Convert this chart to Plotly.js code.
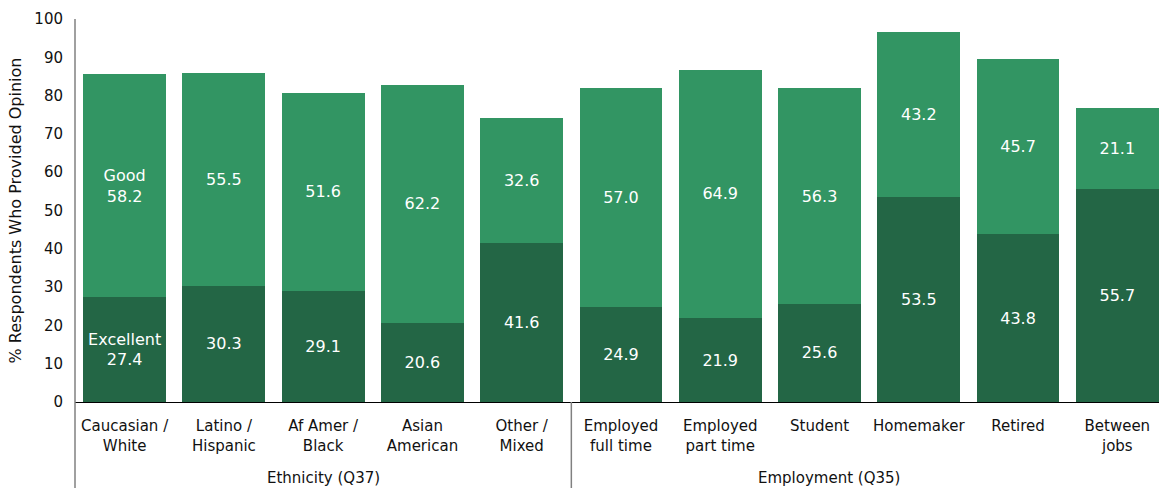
<!DOCTYPE html>
<html>
<head>
<meta charset="utf-8">
<script src="https://cdn.plot.ly/plotly-3.0.1.min.js"></script>
<style>html,body{margin:0;padding:0;background:#fff;}#chart{width:1159px;height:488px;}</style>
</head>
<body>
<div id="chart"></div>
<script>
const categories = ["Caucasian /<br>White", "Latino /<br>Hispanic", "Af Amer /<br>Black", "Asian<br>American", "Other /<br>Mixed",
  "Employed<br>full time", "Employed<br>part time", "Student", "Homemaker", "Retired", "Between<br>jobs"];
const excellent = [27.4, 30.3, 29.1, 20.6, 41.6, 24.9, 21.9, 25.6, 53.5, 43.8, 55.7];
const good = [58.2, 55.5, 51.6, 62.2, 32.6, 57.0, 64.9, 56.3, 43.2, 45.7, 21.1];
const groups = ["Ethnicity (Q37)", "Employment (Q35)"];
const groupSizes = [5, 6];

const FONT = "DejaVu Sans, Verdana, sans-serif";
const excText = excellent.map((v, i) => (i === 0 ? "Excellent<br>" : "") + v.toFixed(1));
const goodText = good.map((v, i) => (i === 0 ? "Good<br>" : "") + v.toFixed(1));

const xs = categories.map((c, i) => i);
const traces = [
  {type: "bar", name: "Excellent", x: xs, y: excellent, text: excText, textposition: "inside",
   insidetextanchor: "middle", textfont: {color: "#ffffff", size: 16, family: FONT},
   marker: {color: "#236645"}, hoverinfo: "skip"},
  {type: "bar", name: "Good", x: xs, y: good, text: goodText, textposition: "inside",
   insidetextanchor: "middle", textfont: {color: "#ffffff", size: 16, family: FONT},
   marker: {color: "#329563"}, hoverinfo: "skip"}
];

const xmin = -0.5, xmax = 10.42;
const toPaper = v => (v - xmin) / (xmax - xmin);
const dividerX = toPaper(groupSizes[0] - 0.5);

const layout = {
  width: 1159, height: 488,
  margin: {l: 75, r: 0, t: 19, b: 86},
  barmode: "stack", bargap: 0.165,
  showlegend: false,
  paper_bgcolor: "#ffffff", plot_bgcolor: "#ffffff",
  font: {family: FONT, color: "#111111", size: 15},
  xaxis: {
    type: "linear", range: [xmin, xmax], tickmode: "array", tickvals: xs, ticktext: categories,
    showline: true, linecolor: "#000000", linewidth: 1, showgrid: false, zeroline: false,
    ticks: "outside", ticklen: 10, tickcolor: "rgba(0,0,0,0)",
    tickfont: {size: 15, family: FONT, color: "#111111"}, fixedrange: true
  },
  yaxis: {
    range: [0, 100], tickmode: "array", tickvals: [0,10,20,30,40,50,60,70,80,90,100],
    showgrid: false, zeroline: false, showline: false,
    ticks: "outside", ticklen: 8, tickcolor: "rgba(0,0,0,0)",
    tickfont: {size: 15, family: FONT, color: "#111111"},
    title: {text: "% Respondents Who Provided Opinion", font: {size: 16, family: FONT, color: "#111111"}, standoff: 8},
    fixedrange: true
  },
  shapes: [
    {type: "line", xref: "paper", yref: "paper", x0: 0, x1: 0, y0: 1, y1: -0.3,
     line: {color: "#808080", width: 1.5}},
    {type: "line", xref: "paper", yref: "paper", x0: dividerX, x1: dividerX, y0: 0, y1: -0.3,
     line: {color: "#808080", width: 1.5}}
  ],
  annotations: [
    {text: groups[0], xref: "x", yref: "paper", x: 2, y: -0.198, yanchor: "middle", showarrow: false,
     font: {size: 15, family: FONT, color: "#111111"}},
    {text: groups[1], xref: "x", yref: "paper", x: 7.1, y: -0.198, yanchor: "middle", showarrow: false,
     font: {size: 15, family: FONT, color: "#111111"}}
  ]
};

Plotly.newPlot("chart", traces, layout, {displayModeBar: false, staticPlot: true});
</script>
</body>
</html>
